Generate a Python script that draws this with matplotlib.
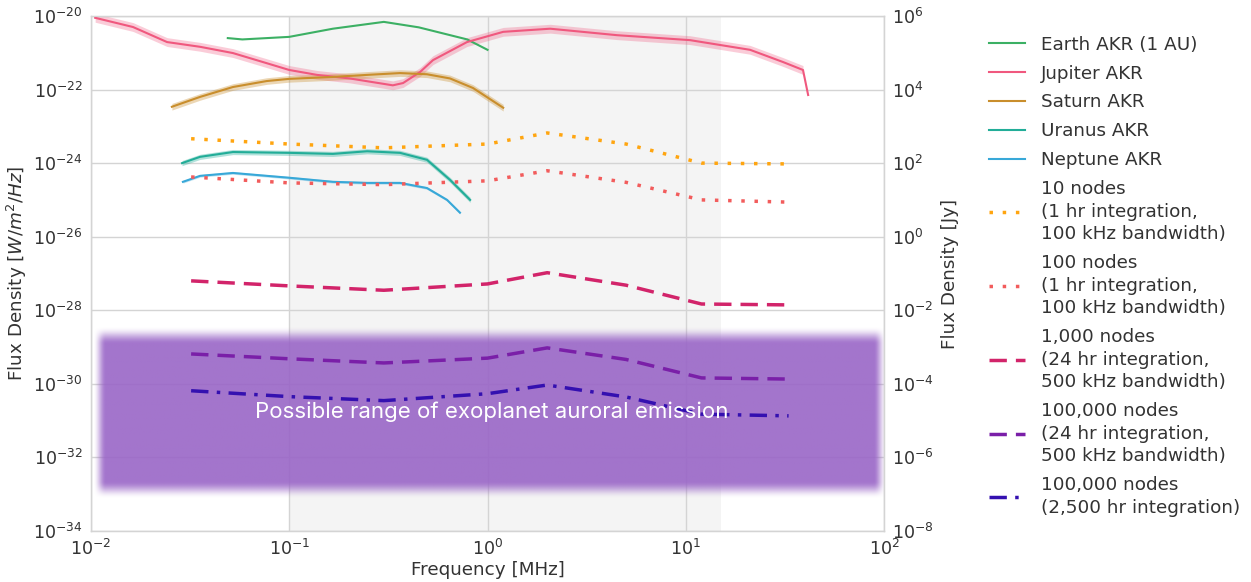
import numpy as np
import matplotlib
matplotlib.use("Agg")
import matplotlib.pyplot as plt
from matplotlib.lines import Line2D

# ---------------- data (frequency in MHz, flux density in W/m^2/Hz) ----------------
earth_f = [0.049, 0.058, 0.10, 0.166, 0.30, 0.45, 0.79, 1.0]
earth_s = [2.5e-21, 2.3e-21, 2.7e-21, 4.5e-21, 6.9e-21, 4.9e-21, 2.3e-21, 1.2e-21]

jup_f = [0.0105, 0.0163, 0.0242, 0.0355, 0.052, 0.077, 0.10, 0.138, 0.202, 0.333,
         0.375, 0.457, 0.531, 0.788, 1.20, 2.07, 4.50, 10.5, 21.1, 30.9, 39.0, 41.4]
jup_s = [8.9e-21, 5.0e-21, 1.95e-21, 1.45e-21, 9.8e-22, 5.2e-22, 3.4e-22, 2.5e-22,
         2.0e-22, 1.3e-22, 1.5e-22, 3.0e-22, 6.3e-22, 1.95e-21, 3.7e-21, 4.5e-21,
         3.0e-21, 2.2e-21, 1.2e-21, 5.6e-22, 3.4e-22, 7.1e-23]

sat_f = [0.0256, 0.0355, 0.052, 0.077, 0.10, 0.166, 0.247, 0.362, 0.495, 0.647, 0.845, 1.20]
sat_s = [3.4e-23, 6.3e-23, 1.17e-22, 1.7e-22, 1.95e-22, 2.2e-22, 2.5e-22, 2.8e-22,
         2.6e-22, 2.0e-22, 1.1e-22, 3.2e-23]

ura_f = [0.0288, 0.0355, 0.052, 0.10, 0.166, 0.247, 0.362, 0.495, 0.647, 0.817]
ura_s = [1.0e-24, 1.48e-24, 2.0e-24, 1.9e-24, 1.78e-24, 2.1e-24, 1.9e-24, 1.23e-24,
         3.5e-25, 1.0e-25]

nep_f = [0.0291, 0.0355, 0.052, 0.10, 0.166, 0.247, 0.362, 0.495, 0.625, 0.726]
nep_s = [3.1e-25, 4.5e-25, 5.4e-25, 4.0e-25, 3.1e-25, 2.9e-25, 2.9e-25, 2.1e-25,
         1.0e-25, 4.5e-26]

sens_f = [0.032, 0.1, 0.3, 1.0, 2.0, 5.0, 12.0, 33.0]
nodes10_s = [4.6e-24, 3.3e-24, 2.6e-24, 3.3e-24, 6.6e-24, 3.3e-24, 1.0e-24, 9.5e-25]
nodes100_s = [4.2e-25, 2.9e-25, 2.6e-25, 3.3e-25, 6.2e-25, 3.0e-25, 1.0e-25, 8.7e-26]
nodes1k_s = [6.3e-28, 4.6e-28, 3.5e-28, 5.2e-28, 1.05e-27, 4.8e-28, 1.48e-28, 1.4e-28]
nodes100k_s = [6.5e-30, 4.8e-30, 3.7e-30, 5.0e-30, 9.5e-30, 4.6e-30, 1.45e-30, 1.35e-30]
nodes100k_long_s = [6.5e-31, 4.5e-31, 3.5e-31, 5.4e-31, 9.3e-31, 4.4e-31, 1.5e-31, 1.35e-31]

# possible exoplanet emission region: frequency and flux bounds
exo_f = [0.011, 95.0]
exo_s = [1.3e-33, 2.1e-29]

# band of measured frequencies
band_f = [0.1, 15.0]

x_ticks = [1e-2, 1e-1, 1e0, 1e1, 1e2]
y_ticks = [10.0 ** p for p in range(-20, -35, -2)]
jy_ticks = [10.0 ** p for p in range(6, -9, -2)]

labels = [
    "Earth AKR (1 AU)",
    "Jupiter AKR",
    "Saturn AKR",
    "Uranus AKR",
    "Neptune AKR",
    "10 nodes\n(1 hr integration,\n100 kHz bandwidth)",
    "100 nodes\n(1 hr integration,\n100 kHz bandwidth)",
    "1,000 nodes\n(24 hr integration,\n500 kHz bandwidth)",
    "100,000 nodes\n(24 hr integration,\n500 kHz bandwidth)",
    "100,000 nodes\n(2,500 hr integration)",
]

# ---------------- styling ----------------
plt.rcParams["font.family"] = "sans-serif"
plt.rcParams["font.sans-serif"] = ["DejaVu Sans"]
TXT = "#333333"
GRID = "#d4d4d4"
FS = 13.2

c_earth = "#3cb064"
c_jup = "#f0587e"
c_sat = "#c98e2c"
c_ura = "#22ad98"
c_nep = "#38a8d8"
c_10 = "#ffa510"
c_100 = "#f25c5c"
c_1k = "#d2246a"
c_100k = "#7a1fa8"
c_100kl = "#3410b0"

DOT = (0, (1, 2.8))
DASH = (0, (5, 2.6))
DASHDOT = (0, (5, 2.4, 1, 2.4))

fig = plt.figure(figsize=(12.51, 5.82), dpi=100)
ax = fig.add_axes([0.0727, 0.0876, 0.634, 0.885])
ax.set_xscale("log")
ax.set_yscale("log")
ax.set_xlim(1e-2, 1e2)
ax.set_ylim(1e-34, 1e-20)
ax.set_facecolor("white")
ax.set_xticks(x_ticks)
ax.set_yticks(y_ticks)
ax.minorticks_off()
ax.grid(True, color=GRID, lw=1.0, zorder=0)
ax.set_axisbelow(True)
ax.tick_params(length=0, labelsize=12.6, colors=TXT, pad=6)
for sp in ax.spines.values():
    sp.set_color(GRID)
    sp.set_linewidth(1.0)

# shaded frequency band
ax.axvspan(band_f[0], band_f[1], color="#ececec", alpha=0.55, lw=0, zorder=0.5)

# soft-edged exoplanet region, placed via the axes' own scale transforms
to_axes = ax.transScale + ax.transLimits
(x0, y0) = to_axes.transform((exo_f[0], exo_s[0]))
(x1, y1) = to_axes.transform((exo_f[1], exo_s[1]))
nx, ny = 800, 200
pad = 0.014
xs = np.linspace(x0 - pad, x1 + pad, nx)
ys = np.linspace(y0 - pad * 2.2, y1 + pad * 2.2, ny)


def ramp(v, lo, hi, w):
    a = np.clip((v - lo) / w + 0.5, 0, 1)
    b = np.clip((hi - v) / w + 0.5, 0, 1)
    a = a * a * (3 - 2 * a)
    b = b * b * (3 - 2 * b)
    return np.minimum(a, b)


ax_alpha = ramp(xs, x0, x1, 0.016)
ay_alpha = ramp(ys, y0, y1, 0.034)
alpha = np.outer(ay_alpha, ax_alpha) * 0.9
img = np.zeros((ny, nx, 4))
img[..., 0] = 153 / 255
img[..., 1] = 101 / 255
img[..., 2] = 199 / 255
img[..., 3] = alpha
ax.imshow(img, extent=(xs[0], xs[-1], ys[0], ys[-1]), origin="lower",
          transform=ax.transAxes, aspect="auto", interpolation="bilinear", zorder=1)

ax.text(1.05, 1.7e-31, "Possible range of exoplanet auroral emission",
        color="white", fontsize=16, family=["Inter", "DejaVu Sans"],
        ha="center", va="center", zorder=6)

# planetary AKR curves with uncertainty bands
def band(f, s, dex, color, a):
    s = np.asarray(s)
    ax.fill_between(f, s / 10 ** dex, s * 10 ** dex, color=color, alpha=a, lw=0, zorder=2)


band(jup_f[:-1], jup_s[:-1], 0.12, c_jup, 0.3)
band(sat_f, sat_s, 0.09, c_sat, 0.35)
band(ura_f, ura_s, 0.07, c_ura, 0.35)
band(nep_f, nep_s, 0.035, c_nep, 0.3)

ax.plot(earth_f, earth_s, color=c_earth, lw=1.5, zorder=3)
ax.plot(jup_f, jup_s, color=c_jup, lw=1.5, zorder=3)
ax.plot(sat_f, sat_s, color=c_sat, lw=1.5, zorder=3)
ax.plot(ura_f, ura_s, color=c_ura, lw=1.5, zorder=3)
ax.plot(nep_f, nep_s, color=c_nep, lw=1.5, zorder=3)

# array sensitivity curves
ax.plot(sens_f, nodes10_s, color=c_10, lw=2.5, ls=DOT, zorder=4)
ax.plot(sens_f, nodes100_s, color=c_100, lw=2.5, ls=DOT, zorder=4)
ax.plot(sens_f, nodes1k_s, color=c_1k, lw=2.5, ls=DASH, zorder=4)
ax.plot(sens_f, nodes100k_s, color=c_100k, lw=2.5, ls=DASH, zorder=4)
ax.plot(sens_f, nodes100k_long_s, color=c_100kl, lw=2.5, ls=DASHDOT, zorder=4)

ax.set_xlabel("Frequency [MHz]", fontsize=FS, color=TXT, labelpad=1)
ax.set_ylabel("Flux Density [$W/m^2/Hz$]", fontsize=FS, color=TXT, labelpad=3)

# Jansky axis on the right
ax2 = ax.twinx()
ax2.set_yscale("log")
ax2.set_ylim(1e-8, 1e6)
ax2.set_yticks(jy_ticks)
ax2.minorticks_off()
ax2.tick_params(length=0, labelsize=12.6, colors=TXT, pad=6)
for sp in ax2.spines.values():
    sp.set_color(GRID)
ax2.set_ylabel("Flux Density [Jy]", fontsize=FS, color=TXT, labelpad=5)

handles = [
    Line2D([], [], color=c_earth, lw=1.5),
    Line2D([], [], color=c_jup, lw=1.5),
    Line2D([], [], color=c_sat, lw=1.5),
    Line2D([], [], color=c_ura, lw=1.5),
    Line2D([], [], color=c_nep, lw=1.5),
    Line2D([], [], color=c_10, lw=2.5, ls=DOT),
    Line2D([], [], color=c_100, lw=2.5, ls=DOT),
    Line2D([], [], color=c_1k, lw=2.5, ls=DASH),
    Line2D([], [], color=c_100k, lw=2.5, ls=DASH),
    Line2D([], [], color=c_100kl, lw=2.5, ls=DASHDOT),
]
leg = fig.legend(handles, labels, loc="upper left", bbox_to_anchor=(0.7845, 0.951),
                 frameon=False, fontsize=FS, handlelength=2.0, handletextpad=0.85,
                 labelspacing=0.59, borderaxespad=0)
for t in leg.get_texts():
    t.set_color(TXT)
    t.set_linespacing(1.33)

fig.savefig("out.png", dpi=100)
